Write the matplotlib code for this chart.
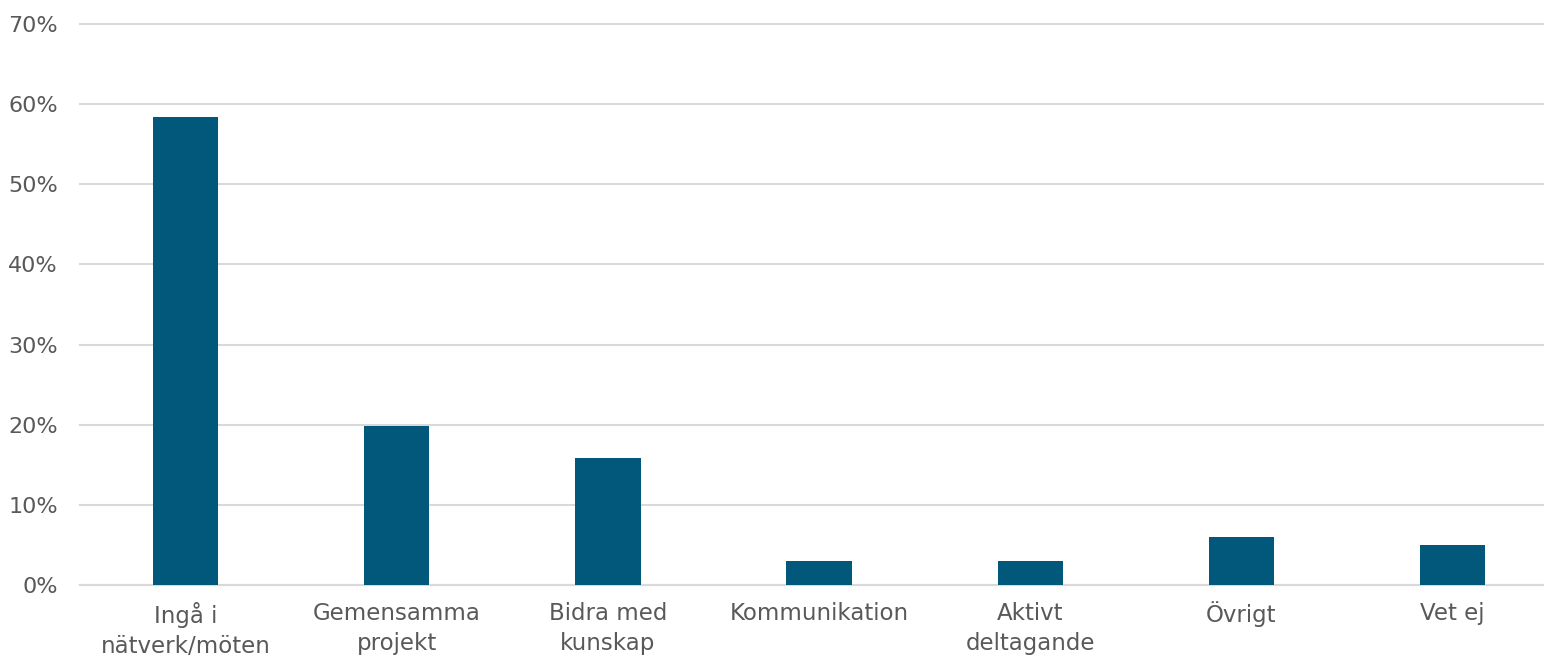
import matplotlib
matplotlib.use("Agg")
import matplotlib.pyplot as plt
from matplotlib.ticker import FuncFormatter, MultipleLocator

categories = ["Ingå i\nnätverk/möten", "Gemensamma\nprojekt", "Bidra med\nkunskap",
              "Kommunikation", "Aktivt\ndeltagande", "Övrigt", "Vet ej"]
shares = [0.584, 0.198, 0.158, 0.030, 0.030, 0.060, 0.050]

bar_color = "#02587a"
text_color = "#595959"
grid_color = "#d9d9d9"

plt.rcParams["font.family"] = ["DejaVu Sans"]

fig = plt.figure(figsize=(15.44, 6.56), dpi=100)
ax = fig.add_axes([80 / 1544, 71 / 656, 1464 / 1544, 561 / 656])

x = range(len(categories))
ax.bar(x, shares, width=0.31, color=bar_color, zorder=3)

ax.set_ylim(0, 0.70)
ax.set_xlim(-0.5, 6.433)
ax.yaxis.set_major_locator(MultipleLocator(0.10))
ax.yaxis.set_major_formatter(FuncFormatter(lambda v, p: f"{v * 100:.0f}%"))
ax.grid(axis="y", color=grid_color, linewidth=1.5, zorder=0)
ax.set_axisbelow(True)
for gl in ax.get_ygridlines():
    gl.set_clip_on(False)

for s in ["top", "right", "left"]:
    ax.spines[s].set_visible(False)
ax.spines["bottom"].set_color(grid_color)
ax.spines["bottom"].set_linewidth(1.5)

ax.set_xticks(list(x))
ax.set_xticklabels(categories, linespacing=1.38)
ax.tick_params(axis="both", length=0, labelcolor=text_color)
ax.tick_params(axis="x", labelsize=16.5, pad=12)
ax.tick_params(axis="y", labelsize=16, pad=16)

fig.savefig("out.png", dpi=100)
